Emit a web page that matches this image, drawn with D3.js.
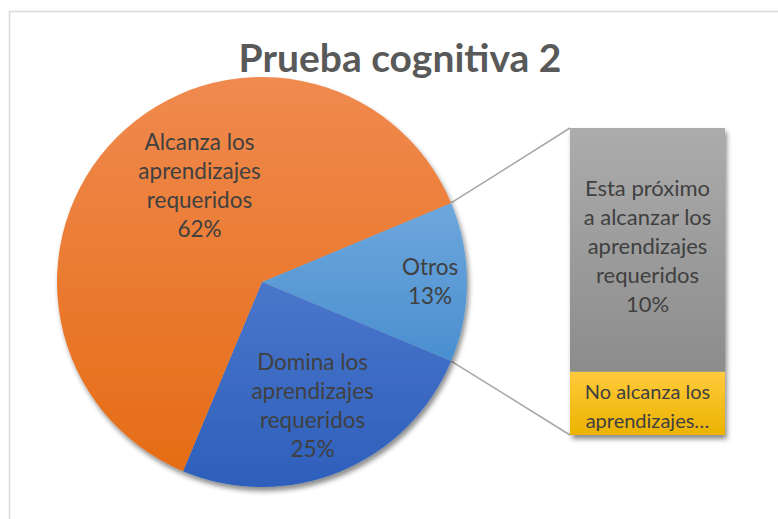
<!DOCTYPE html>
<html><head><meta charset="UTF-8">
<style>
body { margin: 0; background: #fff; }
text { font-family: Lato, "Open Sans", sans-serif; fill: #404040; }
</style>
</head>
<body>
<svg width="778" height="519"></svg>
<script src="https://cdn.jsdelivr.net/npm/d3@7"></script>
<script>

var title = "Prueba cognitiva 2";
var categories = [
  "Alcanza los aprendizajes requeridos",
  "Domina los aprendizajes requeridos",
  "Esta próximo a alcanzar los aprendizajes requeridos",
  "No alcanza los aprendizajes requeridos"
];
var values = [62.4, 25.0, 10.0, 2.6];
var otherLabel = "Otros";
var colorsTop = ["#f08a4f", "#4a76ca", "#6ea7dc", "#acacac", "#ffca3c"];
var colorsBot = ["#e56c15", "#2d5fbb", "#4a8fd0", "#8c8c8c", "#ecb300"];

var svg = d3.select("svg");
var fmt = d3.format(".0%");

// main pie: first two categories + "Otros" (sum of the rest)
var pieData = [
  { name: otherLabel, value: values[2] + values[3], c: 2 },
  { name: categories[1], value: values[1], c: 1 },
  { name: categories[0], value: values[0], c: 0 }
];
var barData = [
  { name: categories[3], value: values[3], c: 4 },
  { name: categories[2], value: values[2], c: 3 }
];
var total = d3.sum(pieData, function(d) { return d.value; });

var cx = 262, cy = 282, R = 205;
var half = Math.PI * (pieData[0].value / total);

var pie = d3.pie().sort(null).value(function(d) { return d.value; })
    .startAngle(Math.PI / 2 - half).endAngle(Math.PI / 2 - half + 2 * Math.PI);
var arc = d3.arc().innerRadius(0).outerRadius(R);
var arcs = pie(pieData);

var defs = svg.append("defs");
var f = defs.append("filter").attr("id", "shadow")
    .attr("x", "-10%").attr("y", "-10%").attr("width", "130%").attr("height", "130%");
f.append("feDropShadow").attr("dx", 2).attr("dy", 4).attr("stdDeviation", 2.5)
    .attr("flood-color", "#000").attr("flood-opacity", 0.45);

colorsTop.forEach(function(c, i) {
  var gr = defs.append("linearGradient").attr("id", "g" + i)
      .attr("x1", 0).attr("y1", 0).attr("x2", 0).attr("y2", 1);
  gr.append("stop").attr("offset", "0%").attr("stop-color", c);
  gr.append("stop").attr("offset", "100%").attr("stop-color", colorsBot[i]);
});

// chart area border
svg.append("rect").attr("x", 9.5).attr("y", 11.5).attr("width", 800).attr("height", 560)
    .attr("fill", "#fff").attr("stroke", "#d9d9d9").attr("stroke-width", 1.5);

svg.append("text").attr("x", 400).attr("y", 72).attr("text-anchor", "middle")
    .style("font-size", "39px").style("font-weight", "bold").style("fill", "#595959")
    .text(title);

// bar of the "Otros" part
var bx0 = 570, bx1 = 725;
var y = d3.scaleLinear().domain([0, d3.sum(barData, function(d) { return d.value; })]).range([435, 128]);
var acc = 0;
barData.forEach(function(d) { d.y0 = acc; acc += d.value; d.y1 = acc; });

var lines = svg.append("g");
[[arcs[0].startAngle, y(acc)], [arcs[0].endAngle, y(0)]].forEach(function(p) {
  lines.append("line")
      .attr("x1", cx + R * Math.sin(p[0])).attr("y1", cy - R * Math.cos(p[0]))
      .attr("x2", bx0).attr("y2", p[1])
      .attr("stroke", "#a6a6a6").attr("stroke-width", 1.5);
});

svg.append("g").attr("transform", "translate(" + cx + "," + cy + ")")
    .attr("filter", "url(#shadow)")
  .selectAll("path").data(arcs).enter().append("path")
    .attr("d", arc)
    .attr("fill", function(d) { return "url(#g" + d.data.c + ")"; });

svg.append("g").attr("filter", "url(#shadow)")
  .selectAll("rect").data(barData).enter().append("rect")
    .attr("x", bx0).attr("width", bx1 - bx0)
    .attr("y", function(d) { return y(d.y1); })
    .attr("height", function(d) { return y(d.y0) - y(d.y1); })
    .attr("fill", function(d) { return "url(#g" + d.c + ")"; });

// word wrap helper
function wrapLines(words, maxW, size) {
  var t = svg.append("text").style("font-size", size + "px");
  var out = [], cur = "";
  words.split(" ").forEach(function(w) {
    var test = cur ? cur + " " + w : w;
    t.text(test);
    if (cur && t.node().getComputedTextLength() > maxW) { out.push(cur); cur = w; }
    else cur = test;
  });
  out.push(cur);
  t.remove();
  return out;
}

function block(x, yc, lns, size, lh) {
  var t = svg.append("text").attr("text-anchor", "middle").style("font-size", size + "px");
  lns.forEach(function(l, i) {
    t.append("tspan").attr("x", x)
        .attr("y", yc + (i - (lns.length - 1) / 2) * lh)
        .attr("dy", "0.35em").text(l);
  });
}

// label placement per pie slice (radius fraction, angle shift)
var place = { 0: [0.82, 0], 1: [0.65, 0], 2: [0.56, 0.21] };
arcs.forEach(function(a) {
  var pl = place[pieData.indexOf(a.data)];
  var m = (a.startAngle + a.endAngle) / 2 + pl[1];
  var r = R * pl[0];
  var lns = a.data.name === otherLabel ? [otherLabel] : wrapLines(a.data.name, 128, 22.5);
  lns.push(fmt(a.data.value / 100));
  block(cx + r * Math.sin(m), cy - r * Math.cos(m), lns, 22.5, 29);
});

barData.forEach(function(d) {
  var h = y(d.y0) - y(d.y1);
  var maxL = Math.max(1, Math.floor(h / 29));
  var big = h > 100;
  var lns = wrapLines(d.name, 133, big ? 22 : 20);
  lns.push(fmt(d.value / 100));
  if (lns.length > maxL) {
    lns = lns.slice(0, maxL);
    lns[maxL - 1] += "…";
  }
  block((bx0 + bx1) / 2, (y(d.y0) + y(d.y1)) / 2 + (big ? -4 : 3), lns, big ? 22 : 20, 29);
});

</script>
</body></html>
